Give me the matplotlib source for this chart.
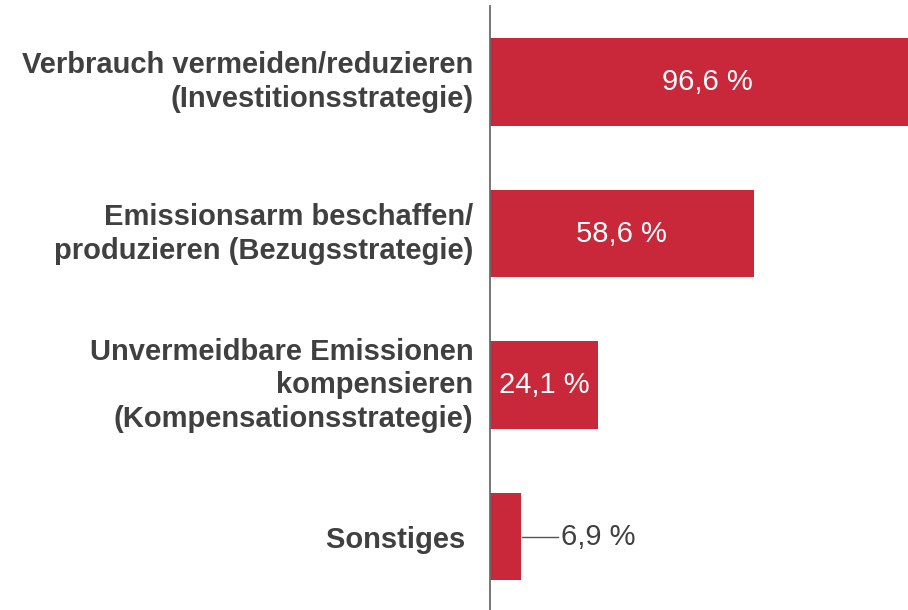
import matplotlib
matplotlib.use("Agg")
import matplotlib.pyplot as plt
import matplotlib.transforms as mtransforms

categories = [
    "Verbrauch vermeiden/reduzieren\n(Investitionsstrategie)",
    "Emissionsarm beschaffen/\nproduzieren (Bezugsstrategie)",
    "Unvermeidbare Emissionen\nkompensieren\n(Kompensationsstrategie)",
    "Sonstiges ",
]
values = [96.6, 58.6, 24.1, 6.9]
value_labels = ["96,6 %", "58,6 %", "24,1 %", "6,9 %"]

plt.rcParams['font.family'] = ['Liberation Sans', 'DejaVu Sans']

W, H = 908, 610
fig = plt.figure(figsize=(W / 100, H / 100), dpi=100)
ax = fig.add_axes([490 / W, 0, 1 - 490 / W, (610 - 6) / H])

bar_color = "#C8283A"
text_color = "#404040"
ypos = list(range(len(values)))
ax.barh(ypos, values, height=0.58, color=bar_color, zorder=2)

ax.set_xlim(0, 92.9)
ax.set_ylim(3.485, -0.502)

for s in ["top", "right", "bottom"]:
    ax.spines[s].set_visible(False)
ax.spines["left"].set_color("#6b6b6b")
ax.spines["left"].set_linewidth(1.3)
ax.set_xticks([])
ax.set_yticks(ypos)
ax.set_yticklabels(categories, fontsize=21, fontweight="bold", color=text_color,
                   linespacing=1.27)
ax.tick_params(axis="y", length=0, pad=12)
for lbl in ax.get_yticklabels():
    if "\n" in lbl.get_text():
        shift = mtransforms.ScaledTranslation(0, 4 / 72, fig.dpi_scale_trans)
        lbl.set_transform(lbl.get_transform() + shift)

for y, v, lab in zip(ypos, values, value_labels):
    if v > 15:
        ax.text(v / 2, y, lab, color="white", fontsize=21, ha="center", va="center", zorder=3)
    else:
        ax.plot([v + 0.3, v + 8.3], [y, y], color="#555555", lw=1, clip_on=False)
        ax.text(v + 8.9, y, lab, color=text_color, fontsize=21, ha="left", va="center")

fig.savefig("out.png", dpi=100)
